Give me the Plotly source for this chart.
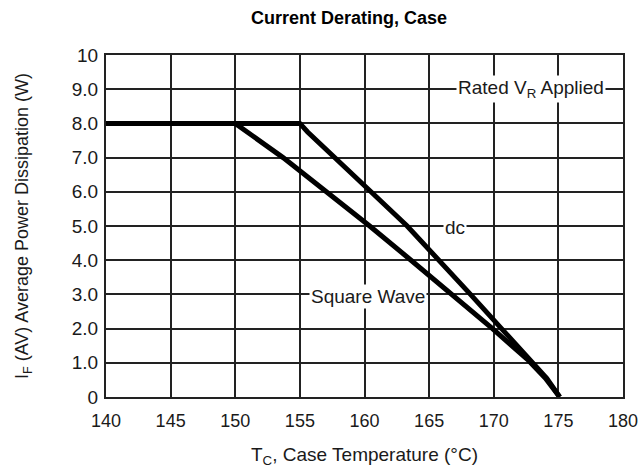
import plotly.graph_objects as go

# Data
dc_temp = [140, 155.0, 155.6, 157.9, 160.5, 163.3, 165.8, 168.2, 170.6, 172.9, 174.1, 175.1]
dc_pow = [8.0, 8.0, 7.75, 6.95, 6.0, 5.0, 4.0, 3.0, 2.0, 1.05, 0.55, 0.0]
sq_temp = [140, 150.0, 153.7, 157.3, 160.4, 163.6, 166.8, 169.9, 172.6, 174.0, 175.1]
sq_pow = [8.0, 8.0, 7.0, 5.95, 5.0, 4.0, 3.0, 2.0, 1.1, 0.55, 0.0]

x_ticks = [140, 145, 150, 155, 160, 165, 170, 175, 180]
y_ticks = [0, 1, 2, 3, 4, 5, 6, 7, 8, 9, 10]
y_tick_text = ["0", "1.0", "2.0", "3.0", "4.0", "5.0", "6.0", "7.0", "8.0", "9.0", "10"]

FONT = "Liberation Sans, Arial, sans-serif"
TXT = "#1a1a1a"

fig = go.Figure()
fig.add_trace(go.Scatter(x=dc_temp, y=dc_pow, mode="lines",
                         line=dict(color="black", width=5), showlegend=False))
fig.add_trace(go.Scatter(x=sq_temp, y=sq_pow, mode="lines",
                         line=dict(color="black", width=5), showlegend=False))

ann_style = dict(showarrow=False, bgcolor="white", font=dict(family=FONT, size=19, color=TXT),
                 xref="x", yref="y", borderpad=1)
fig.add_annotation(x=172.9, y=9.0, text="Rated V<sub>R</sub> Applied", **ann_style)
fig.add_annotation(x=167.0, y=4.95, text="dc", **ann_style)
fig.add_annotation(x=160.3, y=2.95, text="Square Wave", **ann_style)

fig.update_layout(
    width=638, height=468,
    margin=dict(l=106, r=15, t=55, b=71, autoexpand=False),
    paper_bgcolor="white", plot_bgcolor="white",
    font=dict(family=FONT, size=18, color=TXT),
    title=dict(text="<b>Current Derating, Case</b>", x=0.547, xanchor="center",
               y=0.962, yanchor="middle", font=dict(family=FONT, size=18, color="black")),
    xaxis=dict(range=[140, 180], tickvals=x_ticks, showgrid=True, gridcolor="#222",
               gridwidth=1.5, zeroline=False, showline=True, linecolor="#222", linewidth=2,
               mirror=True, ticks="outside", ticklen=6, tickcolor="rgba(0,0,0,0)",
               automargin=False, ticklabeloverflow="allow",
               tickfont=dict(family=FONT, size=18, color=TXT),
               title=dict(text="T<sub>C</sub>, Case Temperature (°C)", standoff=21,
                          font=dict(family=FONT, size=19, color=TXT))),
    yaxis=dict(range=[0, 10], tickvals=y_ticks, ticktext=y_tick_text, showgrid=True,
               gridcolor="#222", gridwidth=1.5, zeroline=False, showline=True,
               linecolor="#222", linewidth=2, mirror=True, ticks="outside", ticklen=2,
               tickcolor="rgba(0,0,0,0)", automargin=False,
               tickfont=dict(family=FONT, size=19, color=TXT),
               title=dict(text="I<sub>F</sub> (AV) Average Power Dissipation (W)", standoff=38,
                          font=dict(family=FONT, size=18, color=TXT))),
)

fig.write_html("out.html")
